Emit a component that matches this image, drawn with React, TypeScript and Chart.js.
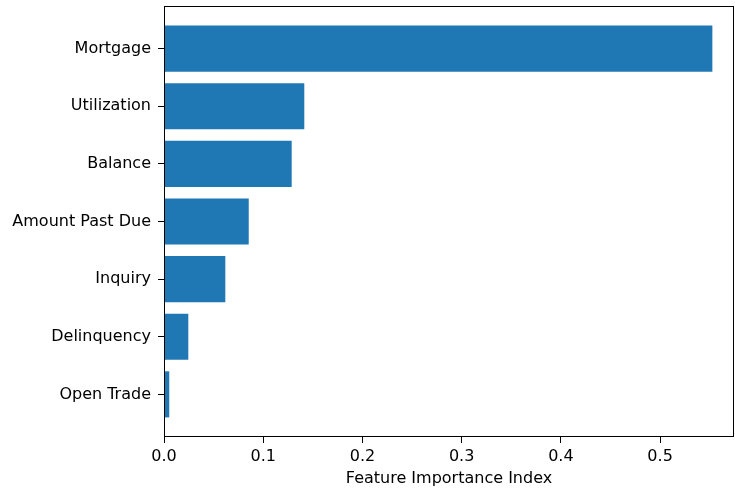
import React, { useEffect, useRef } from "react";
import { Chart, registerables } from "chart.js";

Chart.register(...registerables);

const categories = ["Mortgage", "Utilization", "Balance", "Amount Past Due", "Inquiry", "Delinquency", "Open Trade"];
const importance = [0.5527, 0.1414, 0.1287, 0.0854, 0.0618, 0.0245, 0.0053];
const xTicks = [0, 0.1, 0.2, 0.3, 0.4, 0.5];
const xTitle = "Feature Importance Index";

const FONT = "'DejaVu Sans', sans-serif";
const FS = 16;

const framePlugin = {
  id: "frame",
  afterDraw(chart: any) {
    const { ctx, chartArea } = chart;
    const l = Math.round(chartArea.left) + 0.5;
    const t = Math.round(chartArea.top) + 0.5;
    const r = Math.round(chartArea.right) - 0.5;
    const b = Math.round(chartArea.bottom) - 0.5;
    ctx.save();
    ctx.strokeStyle = "#000";
    ctx.lineWidth = 1;
    ctx.strokeRect(l, t, r - l, b - t);
    ctx.restore();
  },
};

export default function App() {
  const ref = useRef<HTMLCanvasElement>(null);
  useEffect(() => {
    document.body.style.margin = "0";
    const data = categories.map((c, i) => ({ x: importance[i], y: i }));
    const chart = new Chart(ref.current as HTMLCanvasElement, {
      type: "bar",
      data: {
        datasets: [
          {
            data: data as any,
            backgroundColor: "#1f77b4",
            borderWidth: 0,
            categoryPercentage: 1,
            barPercentage: 0.8,
          },
        ],
      },
      plugins: [framePlugin],
      options: {
        animation: false,
        responsive: true,
        maintainAspectRatio: false,
        indexAxis: "y",
        layout: { padding: { top: 6, right: 1, left: 0, bottom: 0 } },
        plugins: { legend: { display: false }, tooltip: { enabled: false } },
        scales: {
          x: {
            type: "linear",
            min: 0,
            max: 0.5745,
            offset: false,
            afterFit: (s: any) => {
              s.height = 57;
              s.paddingLeft = 0;
              s.paddingRight = 0;
            },
            afterBuildTicks: (s: any) => {
              s.ticks = xTicks.map((v) => ({ value: v }));
            },
            ticks: {
              callback: (v: any) => Number(v).toFixed(1),
              font: { family: FONT, size: FS },
              color: "#000",
              padding: 4,
              maxRotation: 0,
            },
            grid: { offset: false, drawOnChartArea: false, drawTicks: true, tickLength: 6, tickColor: "#000", tickWidth: 1 },
            border: { display: false },
            title: {
              display: true,
              text: xTitle,
              font: { family: FONT, size: FS },
              color: "#000",
              padding: { top: 0, bottom: 6 },
            },
          },
          y: {
            type: "linear",
            min: -0.74,
            max: 6.74,
            reverse: true,
            offset: false,
            afterFit: (s: any) => {
              s.width = 164;
              s.paddingTop = 0;
              s.paddingBottom = 0;
            },
            afterBuildTicks: (s: any) => {
              s.ticks = categories.map((_, i) => ({ value: i }));
            },
            ticks: {
              callback: (v: any) => categories[Math.round(Number(v))] ?? "",
              font: { family: FONT, size: FS },
              color: "#000",
              padding: 7,
            },
            grid: { offset: false, drawOnChartArea: false, drawTicks: true, tickLength: 6, tickColor: "#000", tickWidth: 1 },
            border: { display: false },
          },
        },
      },
    });
    return () => chart.destroy();
  }, []);
  return (
    <div style={{ width: 735, height: 494, position: "relative" }}>
      <canvas ref={ref} />
    </div>
  );
}
